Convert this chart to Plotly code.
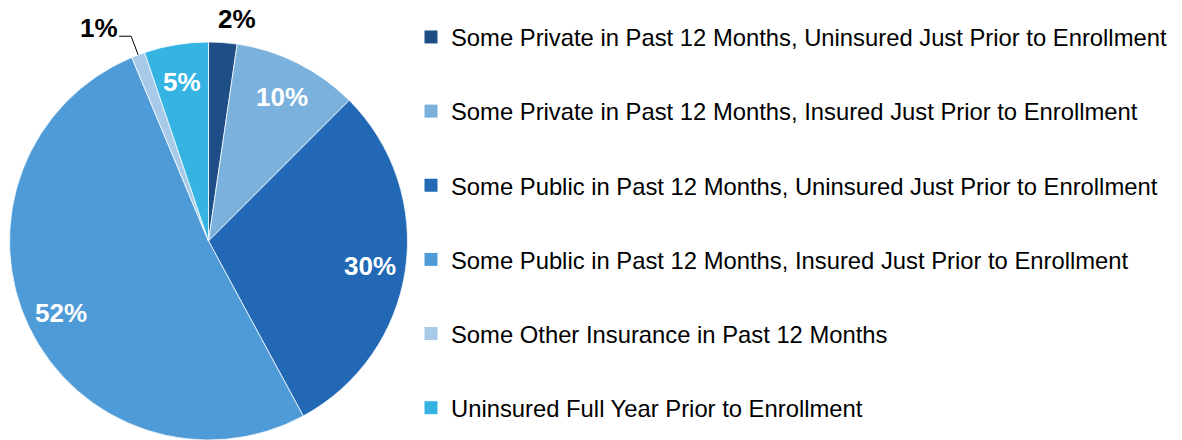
import math
import plotly.graph_objects as go

# ---------------- data ----------------
categories = [
    "Some Private in Past 12 Months, Uninsured Just Prior to Enrollment",
    "Some Private in Past 12 Months, Insured Just Prior to Enrollment",
    "Some Public in Past 12 Months, Uninsured Just Prior to Enrollment",
    "Some Public in Past 12 Months, Insured Just Prior to Enrollment",
    "Some Other Insurance in Past 12 Months",
    "Uninsured Full Year Prior to Enrollment",
]
shares = [2.3, 10.2, 29.6, 51.6, 1.1, 5.2]

# ---------------- style ----------------
colors = ["#1F4E87", "#7AB1DD", "#2268B5", "#4F9BD7", "#A7CAE9", "#35B4E3"]
label_side = ["outside", "inside", "inside", "inside", "outside", "inside"]
FONT = "Liberation Sans, Arial, sans-serif"

W, H = 1182, 440
# pie box in pixels (margins are zero, so paper == figure)
box_left, box_right = 8.5, 408.5
box_top, box_bottom = 42, 440
cx = (box_left + box_right) / 2
cy = (box_top + box_bottom) / 2
R = min(box_right - box_left, box_bottom - box_top) / 2


def px(x):
    return x / W


def py(y):
    return 1 - y / H


fig = go.Figure()
fig.add_trace(go.Pie(
    labels=categories,
    values=shares,
    sort=False,
    direction="clockwise",
    rotation=0,
    textinfo="none",
    marker=dict(colors=colors, line=dict(color="white", width=0.75)),
    domain=dict(x=[px(box_left), px(box_right)], y=[py(box_bottom), py(box_top)]),
    showlegend=False,
    hoverinfo="label+percent",
))

# legend entries (one group each so they can be spaced like the original)
for name, col in zip(categories, colors):
    fig.add_trace(go.Scatter(
        x=[None], y=[None], mode="markers", name=name, legendgroup=name,
        marker=dict(symbol="square", size=13, color=col),
        hoverinfo="skip",
    ))

# data labels computed from the shares
total = sum(shares)
annotations = []
shapes = []
cum = 0.0
for v, side in zip(shares, label_side):
    mid = (cum + v / 2) / total * 2 * math.pi
    cum += v
    s, c = math.sin(mid), -math.cos(mid)
    text = f"{round(v / total * 100):d}%"
    if side == "inside":
        rr = 0.82 * R
        annotations.append(dict(
            x=px(cx + rr * s), y=py(cy + rr * c), xref="paper", yref="paper",
            text=text, showarrow=False, xanchor="center", yanchor="middle", yshift=-2,
            font=dict(family=FONT, size=26, color="white", weight="bold"),
        ))
    else:
        ex, ey = cx + R * s, cy + R * c
        ox, oy = cx + 1.1 * R * s, cy + 1.1 * R * c
        if s >= 0:
            annotations.append(dict(
                x=px(ox), y=py(oy), xref="paper", yref="paper", text=text,
                showarrow=False, xanchor="left", yanchor="middle", xshift=-8, yshift=4,
                font=dict(family=FONT, size=26, color="black", weight="bold"),
            ))
        else:
            hx = ox - 12
            shapes.append(dict(
                type="path", xref="paper", yref="paper",
                path=f"M {px(ex)} {py(ey)} L {px(ox)} {py(oy)} L {px(hx)} {py(oy)}",
                line=dict(color="black", width=1),
            ))
            annotations.append(dict(
                x=px(hx), y=py(oy), xref="paper", yref="paper", text=text,
                showarrow=False, xanchor="right", yanchor="middle", xshift=1, yshift=8,
                font=dict(family=FONT, size=26, color="black", weight="bold"),
            ))

fig.update_layout(
    width=W, height=H,
    margin=dict(l=0, r=0, t=0, b=0, autoexpand=False),
    paper_bgcolor="white", plot_bgcolor="white",
    xaxis=dict(visible=False), yaxis=dict(visible=False),
    annotations=annotations, shapes=shapes,
    legend=dict(
        x=411 / W, xanchor="left", y=1 - 15 / H, yanchor="top",
        font=dict(family=FONT, size=23.8, color="black"),
        tracegroupgap=40.2, bgcolor="rgba(0,0,0,0)", borderwidth=0,
    ),
    showlegend=True,
)

fig.write_html("out.html", config={"displayModeBar": False},
               post_script="document.body.style.margin='0';")
